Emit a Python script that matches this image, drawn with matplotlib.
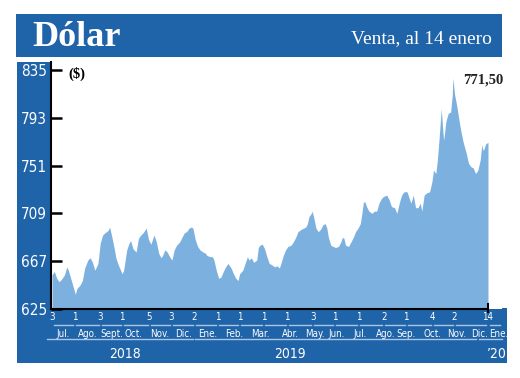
import matplotlib
matplotlib.use('Agg')
import matplotlib.pyplot as plt
import matplotlib.dates as mdates
from matplotlib.patches import Rectangle
from matplotlib.transforms import blended_transform_factory
import pandas as pd

inicio = pd.Timestamp('2018-07-03')

# dias desde el 3 de julio de 2018 y precio de venta del dolar ($)
dias = [0, 3, 6, 9, 12, 16, 19, 21, 24, 27, 30, 32, 36, 39, 42, 46, 49, 52, 55, 59,
        62, 65, 68, 72, 74, 77, 80, 82, 85, 90, 92, 96, 99, 101, 104, 108, 111, 114, 117, 121,
        124, 127, 131, 134, 137, 140, 142, 145, 148, 151, 154, 157, 160, 164, 167, 170, 173, 176, 179, 181,
        184, 187, 190, 194, 197, 199, 203, 206, 208, 211, 214, 217, 220, 223, 226, 230, 233, 236, 239, 241,
        245, 248, 251, 253, 256, 259, 263, 265, 267, 270, 273, 276, 279, 282, 286, 289, 292, 294, 297, 300,
        303, 307, 310, 313, 316, 320, 323, 326, 328, 330, 333, 334, 336, 339, 342, 345, 348, 351, 353, 355,
        358, 361, 364, 368, 371, 373, 375, 377, 381, 384, 387, 390, 393, 396, 398, 400, 402, 404, 407, 411,
        414, 417, 420, 423, 426, 430, 433, 436, 440, 443, 446, 449, 452, 456, 459, 461, 464, 467, 470, 473,
        475, 478, 481, 485, 488, 490, 493, 495, 497, 500, 501, 503, 506, 509, 512, 514, 515, 517, 520, 523,
        525, 528, 532, 535, 538, 541, 544, 547, 550, 552, 554, 557, 560]
valores = [655, 658, 652, 649, 651, 655, 662, 659, 652, 645, 638, 643, 646, 650, 661, 668, 670, 666, 659, 665,
           683, 690, 692, 694, 697, 688, 678, 670, 664, 656, 659, 677, 683, 685, 678, 675, 687, 690, 692, 696,
           686, 682, 690, 684, 674, 670, 672, 677, 675, 671, 668, 677, 681, 684, 688, 692, 693, 696, 697, 696,
           686, 680, 677, 675, 674, 672, 671, 671, 668, 659, 652, 653, 658, 662, 665, 661, 656, 652, 650, 656,
           659, 665, 671, 668, 670, 666, 668, 679, 681, 682, 678, 671, 665, 664, 662, 663, 661, 665, 672, 677,
           680, 681, 684, 688, 693, 695, 696, 697, 700, 706, 709, 711, 706, 696, 693, 695, 699, 700, 696, 688,
           681, 680, 679, 680, 684, 688, 687, 681, 680, 684, 688, 693, 696, 700, 709, 719, 719, 715, 711, 709,
           711, 711, 718, 722, 724, 725, 721, 715, 714, 709, 718, 725, 728, 728, 722, 718, 725, 714, 714, 718,
           711, 725, 727, 728, 737, 747, 744, 756, 773, 801, 791, 773, 790, 797, 798, 812, 828, 814, 803, 790,
           782, 772, 762, 753, 750, 749, 744, 747, 756, 769, 764, 770, 771.5]

y_ticks = [625, 667, 709, 751, 793, 835]
tick_fechas = ['2018-07-03', '2018-08-01', '2018-09-03', '2018-10-01', '2018-11-05', '2018-12-03',
               '2019-01-02', '2019-02-01', '2019-03-01', '2019-04-01', '2019-05-01', '2019-06-03',
               '2019-07-01', '2019-08-01', '2019-09-02', '2019-10-01', '2019-11-04', '2019-12-02',
               '2020-01-14']
tick_dias = ['3', '1', '3', '1', '5', '3', '2', '1', '1', '1', '1', '3', '1', '1', '2', '1', '4', '2', '14']
meses = ['Jul.', 'Ago.', 'Sept.', 'Oct.', 'Nov.', 'Dic.', 'Ene.', 'Feb.', 'Mar.', 'Abr.', 'May.',
         'Jun.', 'Jul.', 'Ago.', 'Sep.', 'Oct.', 'Nov.', 'Dic.', 'Ene.']
anios = ['2018', '2019', '\u201920']
ultimo = '771,50'

azul = '#1f63a8'
celeste = '#7cb1df'
linea = '#a9c6e6'
narrow = dict(family='DejaVu Sans', stretch='condensed')

fechas = inicio + pd.to_timedelta(dias, unit='D')
def num(f):
    return mdates.date2num(pd.Timestamp(f))

fig = plt.figure(figsize=(5.2, 3.78), dpi=100)

# fondo en pixeles (y hacia abajo)
bg = fig.add_axes([0, 0, 1, 1])
bg.set_xlim(0, 520)
bg.set_ylim(378, 0)
bg.axis('off')
bg.add_patch(Rectangle((16, 14), 486, 43, color=azul, lw=0))
bg.add_patch(Rectangle((17, 62), 34, 248, color=azul, lw=0))
bg.add_patch(Rectangle((17, 308), 490, 55, color=azul, lw=0))
bg.text(32, 37, 'Dólar', color='white', fontsize=26, fontweight='bold',
        family='Liberation Serif', ha='left', va='center')
bg.text(492, 39, 'Venta, al 14 enero', color='white', fontsize=14,
        family='Liberation Serif', ha='right', va='center')

ax = fig.add_axes([51 / 520, (378 - 309) / 378, 451 / 520, 239 / 378])
ax.fill_between(fechas, valores, 625, color=celeste, lw=0)
ax.set_ylim(625, 835)
ax.set_xlim(num(inicio) - 1.3, num(inicio) + 578)
ax.set_yticks(y_ticks)
ax.set_yticklabels([str(v) for v in y_ticks], color='white', fontsize=11, **narrow)
ax.tick_params(axis='y', direction='in', length=8, width=1.8, color='black', pad=3)
ax.set_xticks([])
for s in ['top', 'right']:
    ax.spines[s].set_visible(False)
ax.spines['left'].set_linewidth(1.5)
ax.spines['left'].set_bounds(625, 842)
ax.spines['bottom'].set_linewidth(1.5)
ax.spines['bottom'].set_bounds(num(inicio) - 1.3, num(fechas[-1]))
ax.plot([num(fechas[-1])] * 2, [622, 629], color='black', lw=1.5, clip_on=False)
ax.text(0.038, 0.985, '($)', transform=ax.transAxes, fontsize=10.5, fontweight='bold',
        family='Liberation Serif', ha='left', va='center')
ax.annotate(ultimo, (num(fechas[-1]), valores[-1]), xytext=(463, 80),
            textcoords=bg.transData, fontsize=10.5, fontweight='bold', family='Liberation Serif',
            color='#222222', ha='left', va='center')

# rotulos de fechas en la banda inferior
tr = blended_transform_factory(ax.transData, bg.transData)
xs = [num(f) for f in tick_fechas]
fin = num(inicio) + 578
for x, d in zip(xs, tick_dias):
    bg.text(x, 317, d, transform=tr, color='white', fontsize=7, **narrow,
            ha='center', va='center')
for a, b in zip(xs, xs[1:] + [fin]):
    bg.plot([a + 2, b - 2], [325, 325], transform=tr, color=linea, lw=1)
# posicion (px) de los meses en la banda
mes_px = [63, 88, 112, 133, 160, 184, 208, 234, 260, 290, 315, 337, 360, 386, 406, 432, 457, 480, 499]
for m, px in zip(meses, mes_px):
    bg.text(px, 334, m, color='white', fontsize=7, **narrow, ha='center', va='center')

limites = [(num(inicio) - 6, num('2018-12-31')), (num('2019-01-03'), num('2019-12-30')),
           (num('2020-01-02'), fin)]
anio_px = [125, 290, 497]
for (a, b), t, px in zip(limites, anios, anio_px):
    bg.plot([a, b], [339, 339], transform=tr, color=linea, lw=1)
    bg.text(px, 354, t, color='white', fontsize=10, **narrow, ha='center', va='center')

fig.savefig('out.png', dpi=100, facecolor='white')
